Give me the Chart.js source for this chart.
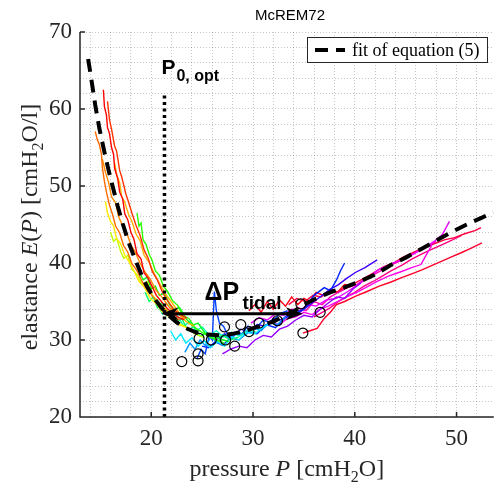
<!DOCTYPE html>
<html>
<head>
<meta charset="utf-8">
<script src="https://cdn.jsdelivr.net/npm/chart.js@4.4.0/dist/chart.umd.min.js"></script>
<style>
  body { margin: 0; background: #fff; }
  canvas { display: block; }
</style>
</head>
<body>
<canvas id="chart" width="500" height="486"></canvas>
<script>
// tick positions
const xTicks = [14, 16, 18, 20, 22, 24, 26, 28, 30, 32, 34, 36, 38, 40, 42, 44, 46, 48, 50, 52];
const yTicks = [20, 22, 24, 26, 28, 30, 32, 34, 36, 38, 40, 42, 44, 46, 48, 50, 52, 54, 56, 58, 60, 62, 64, 66, 68, 70];

// fit of equation (5)
const fitP = [13.8, 14.1, 14.5, 14.9, 15.4, 15.8, 16.2, 16.7, 17.2, 17.8, 18.5, 19.0, 19.6, 20.3, 21.0, 21.7, 22.5, 23.3, 24.4, 25.6, 26.8, 28.0, 29.3, 30.6, 32.0, 33.2, 34.1, 35.0, 35.9, 36.9, 37.8, 38.5, 40.5, 42.0, 43.5, 45.0, 46.5, 48.0, 49.5, 51.0, 52.5, 53.6];
const fitE = [66.5, 64.0, 60.5, 57.5, 54.4, 52.1, 50.0, 47.4, 45.1, 42.6, 40.2, 38.6, 36.9, 35.4, 34.2, 33.2, 32.3, 31.6, 31.0, 30.7, 30.6, 30.8, 31.2, 31.8, 32.4, 33.2, 33.8, 34.6, 35.2, 35.8, 36.3, 36.6, 37.6, 38.5, 39.7, 40.7, 41.8, 42.9, 44.0, 45.0, 45.9, 46.6];

// measured breaths, coloured by hue
const breathHue = [0, 12, 25, 32, 42, 55, 75, 110, 125, 145, 165, 185, 205, 225, 232, 255, 275, 295, 305, 320, 345, 350, 330, 355];
const breathP = [
  [15.3, 15.4, 15.6, 15.7, 15.9, 16.1, 16.3, 16.4, 16.7, 16.9, 17.2, 17.4, 17.7, 18.0, 18.3, 18.6, 19.0, 19.3, 19.7, 20.1, 20.5, 21.0, 21.5, 22.0, 22.6, 23.2],
  [15.7, 15.9, 16.1, 16.4, 16.6, 16.9, 17.1, 17.5, 17.8, 18.1, 18.5, 18.9, 19.3, 19.7, 20.1, 20.6, 21.1, 21.6, 22.2, 22.8, 23.5],
  [14.5, 14.7, 14.9, 15.1, 15.2, 15.4, 15.6, 15.9, 16.2, 16.5, 16.9, 17.3, 17.7, 18.1, 18.6, 19.1, 19.6, 20.2, 20.8, 21.4, 22.1, 22.8],
  [15.2, 15.5, 15.8, 16.1, 16.5, 16.8, 17.2, 17.6, 18.0, 18.4, 18.9, 19.4, 19.9, 20.5, 21.1, 21.8, 22.5, 23.3],
  [16.4, 16.6, 16.9, 17.1, 17.4, 17.8, 18.1, 18.5, 18.9, 19.3, 19.8, 20.3, 20.8, 21.4, 22.0, 22.7, 23.4, 24.2],
  [15.5, 15.7, 16.0, 16.3, 16.6, 17.0, 17.4, 17.8, 18.3, 18.8, 19.3, 19.9, 20.5, 21.1, 21.8, 22.5, 23.3, 24.0],
  [16.0, 16.3, 16.6, 17.0, 17.3, 17.7, 18.1, 18.6, 19.1, 19.6, 20.1, 20.7, 21.3, 22.0, 22.7, 23.5, 24.3, 25.2],
  [18.6, 18.8, 19.0, 19.2, 19.5, 19.8, 20.1, 20.4, 20.8, 21.2, 21.6, 22.1, 22.6, 23.1, 23.7, 24.3, 25.0, 25.7, 26.4, 27.2],
  [18.8, 19.2, 19.6, 20.0, 20.4, 20.8, 21.3, 21.8, 22.3, 22.8, 23.4, 24.0, 24.6, 25.3, 26.0, 26.8, 27.6],
  [19.4, 19.8, 20.2, 20.6, 21.0, 21.5, 22.0, 22.5, 23.0, 23.6, 24.2, 24.8, 25.5, 26.2, 27.0, 27.8, 28.6],
  [20.6, 21.1, 21.6, 22.1, 22.6, 23.2, 23.8, 24.4, 25.0, 25.7, 26.4, 27.1, 27.9, 28.7, 29.5, 30.3],
  [21.9, 22.4, 22.9, 23.4, 24.0, 24.6, 25.2, 25.8, 26.5, 27.2, 27.9, 28.6, 29.4, 30.2, 31.0, 31.8],
  [23.3, 23.8, 24.3, 24.8, 25.3, 25.9, 26.5, 27.1, 27.8, 28.5, 29.2, 30.0, 30.8, 31.6, 32.4, 33.2],
  [24.5, 24.9, 25.3, 25.7, 26.0, 26.2, 26.4, 26.7, 27.1, 27.6, 28.2, 28.8, 29.5, 30.2, 31.0, 31.8, 32.6, 33.4],
  [25.0, 25.6, 26.3, 27.0, 27.8, 28.6, 29.5, 30.4, 31.3, 32.2, 33.1, 34.0, 35.0, 36.0, 37.0, 37.6, 38.2, 38.6, 39.0],
  [26.4, 27.2, 28.0, 28.8, 29.6, 30.4, 31.2, 32.0, 32.8, 33.6, 34.4, 35.2, 36.0, 36.8, 37.6, 38.4, 39.2, 40.1, 41.0, 42.2],
  [27.0, 27.8, 28.6, 29.4, 30.2, 31.0, 31.8, 32.6, 33.4, 34.2, 35.0, 35.8, 36.6, 37.4, 38.2, 39.0, 39.8, 40.6],
  [29.8, 30.6, 31.4, 32.2, 33.0, 33.8, 34.6, 35.4, 36.2, 37.2, 38.2, 39.2, 40.1, 41.2, 42.3, 43.4, 44.6, 45.8, 46.9, 47.8, 48.6, 49.3],
  [31.0, 31.8, 32.6, 33.4, 34.2, 35.0, 35.8, 36.6, 37.4, 38.3, 39.2, 40.2, 41.2, 42.2, 43.3, 44.4, 45.6, 46.5, 47.0, 47.6],
  [32.8, 33.6, 34.4, 35.2, 36.0, 36.8, 37.6, 38.4, 39.3, 40.2, 41.1, 42.0, 43.0, 44.0, 45.0, 46.0, 47.0, 48.0],
  [33.5, 34.3, 35.1, 35.9, 36.7, 37.5, 38.3, 39.1, 40.0, 40.9, 41.8, 42.8, 43.8, 44.8, 45.8, 46.8, 47.8, 48.8, 49.8, 50.8, 51.8, 52.4],
  [34.9, 35.6, 36.3, 37.0, 37.6, 38.2, 39.0, 40.1, 41.2, 42.4, 43.5, 44.6, 45.6, 46.6, 47.6, 48.5, 49.5, 50.4, 51.4, 52.5],
  [36.0, 36.8, 37.6, 38.4, 39.2, 40.0, 40.9, 41.8, 42.7, 43.6, 44.6, 45.6, 46.6, 47.6, 48.6, 49.6, 50.5],
  [29.6, 30.2, 30.8, 31.4, 32.0, 32.6, 33.2, 33.8, 34.4, 35.0, 35.6, 36.2, 36.9, 37.6, 38.3, 39.0, 39.8]
];
const breathE = [
  [62.5, 60.3, 59.2, 57.6, 56.8, 55.0, 54.1, 52.3, 51.0, 49.2, 48.3, 46.4, 45.6, 44.0, 43.1, 41.2, 40.5, 38.7, 38.0, 36.9, 35.8, 35.0, 34.2, 33.6, 33.0, 32.6],
  [61.0, 58.6, 57.4, 55.2, 54.5, 52.0, 51.2, 49.0, 47.8, 46.5, 44.9, 43.6, 41.7, 40.6, 38.9, 37.8, 36.2, 35.1, 34.0, 33.4, 32.8],
  [57.1, 56.0, 55.4, 54.2, 52.4, 50.6, 49.2, 47.5, 46.3, 44.8, 43.9, 42.2, 41.4, 39.9, 39.0, 37.6, 36.5, 35.6, 34.5, 33.9, 33.1, 32.6],
  [53.5, 51.8, 50.5, 48.6, 47.8, 46.0, 44.8, 43.9, 42.3, 41.5, 40.0, 38.8, 37.9, 36.4, 35.5, 34.2, 33.5, 32.7],
  [53.0, 51.5, 50.4, 48.6, 47.9, 46.2, 45.4, 43.8, 42.9, 41.0, 40.1, 38.6, 37.4, 36.0, 34.9, 33.6, 32.4, 31.8],
  [48.0, 46.5, 45.4, 44.8, 43.2, 42.5, 41.0, 40.2, 39.0, 37.6, 36.9, 35.4, 34.7, 33.6, 33.0, 32.1, 31.7, 31.2],
  [44.0, 42.8, 43.2, 41.5, 40.6, 41.0, 39.2, 38.5, 37.2, 37.6, 35.8, 35.0, 34.1, 33.4, 32.2, 31.6, 30.8, 30.3],
  [46.5, 44.8, 45.2, 43.0, 42.4, 41.1, 40.3, 39.0, 38.4, 37.0, 36.3, 35.1, 34.5, 33.2, 32.8, 31.6, 31.0, 30.4, 30.0, 29.6],
  [39.0, 37.8, 38.2, 36.6, 37.0, 35.8, 36.1, 34.6, 33.9, 34.2, 32.8, 31.9, 32.2, 30.9, 30.6, 30.1, 29.8],
  [36.2, 35.0, 35.6, 34.2, 34.8, 33.2, 33.7, 32.3, 32.8, 31.2, 31.8, 30.5, 30.9, 30.2, 30.6, 30.0, 30.4],
  [34.6, 33.4, 34.0, 32.6, 33.1, 31.8, 32.4, 31.2, 31.7, 30.6, 31.2, 30.4, 31.0, 30.5, 31.3, 31.0],
  [31.2, 30.0, 30.8, 29.6, 30.3, 29.2, 29.9, 29.0, 29.8, 29.2, 30.4, 30.0, 31.0, 30.8, 31.7, 32.2],
  [28.4, 29.6, 28.8, 30.0, 29.3, 30.4, 29.6, 30.7, 30.1, 31.1, 30.6, 31.6, 31.2, 32.3, 32.0, 33.0],
  [27.6, 28.8, 28.2, 30.6, 30.0, 36.3, 33.8, 32.2, 31.8, 30.4, 31.0, 30.6, 31.8, 31.4, 32.6, 32.2, 33.4, 33.8],
  [29.2, 29.0, 29.8, 29.3, 30.3, 30.0, 31.0, 30.8, 32.0, 31.6, 32.8, 33.4, 34.0, 35.8, 36.8, 36.4, 37.8, 39.0, 40.0],
  [30.0, 30.8, 30.4, 31.4, 31.0, 32.0, 31.8, 32.8, 32.6, 33.5, 33.4, 34.2, 35.0, 35.8, 36.6, 37.2, 38.0, 38.8, 39.4, 40.4],
  [28.2, 28.8, 29.2, 29.0, 30.0, 30.6, 30.4, 31.4, 31.8, 32.6, 33.2, 33.0, 34.0, 34.8, 35.6, 35.4, 36.6, 37.4],
  [32.2, 32.9, 32.6, 33.4, 33.2, 34.0, 33.8, 34.6, 34.4, 35.2, 35.4, 36.2, 37.0, 38.0, 39.1, 39.8, 40.4, 41.2, 42.0, 42.8, 43.7, 45.4],
  [31.6, 32.3, 32.0, 32.8, 33.0, 33.6, 33.3, 34.0, 34.4, 35.0, 35.6, 36.2, 36.9, 37.6, 38.3, 38.8, 39.4, 39.8, 41.0, 42.4],
  [33.6, 33.2, 34.2, 33.8, 35.0, 34.6, 35.6, 36.2, 36.8, 37.2, 38.0, 38.6, 39.3, 40.0, 40.6, 41.4, 42.0, 42.8],
  [34.6, 35.4, 35.0, 35.8, 35.6, 36.4, 36.2, 36.9, 37.4, 38.0, 38.7, 39.5, 40.0, 40.8, 41.4, 42.0, 42.5, 43.0, 43.3, 43.8, 44.2, 44.6],
  [30.9, 31.2, 31.5, 32.8, 33.6, 34.6, 35.0, 35.7, 36.3, 37.0, 37.5, 38.1, 38.6, 39.1, 39.7, 40.2, 40.8, 41.3, 41.9, 42.6],
  [33.0, 33.6, 34.2, 35.0, 35.6, 36.2, 37.0, 37.6, 38.3, 39.0, 39.7, 40.5, 41.2, 41.8, 42.4, 43.0, 43.6],
  [33.8, 34.6, 33.6, 35.0, 34.0, 35.2, 34.4, 35.6, 34.6, 35.4, 35.0, 36.2, 35.8, 36.6, 36.2, 37.2, 37.0]
];

// end-expiratory points (circles)
const circleP = [23.0, 24.6, 24.6, 24.7, 25.9, 27.2, 27.3, 28.2, 28.8, 29.6, 30.6, 32.4, 34.7, 34.9, 36.6];
const circleE = [27.2, 27.3, 28.2, 30.2, 30.0, 31.7, 30.0, 29.2, 32.0, 31.1, 32.2, 32.5, 34.7, 30.9, 33.6];

// optimal PEEP and tidal swing
const p0opt = 21.3;
const p0optRange = [20, 62];
const tidalFrom = 21.0;
const tidalTo = 34.9;
const tidalE = 33.4;

const pts = (xs, ys) => xs.map((x, i) => ({ x, y: ys[i] }));
const ink = "#262626";

const datasets = [];
datasets.push({
  data: pts(circleP, circleE),
  showLine: false,
  pointRadius: 5,
  pointBorderColor: "#000",
  pointBorderWidth: 1.2,
  pointBackgroundColor: "rgba(0,0,0,0)",
  order: 0
});
datasets.push({
  data: pts([p0opt, p0opt], p0optRange),
  showLine: true,
  borderColor: "#000",
  borderWidth: 3.5,
  borderDash: [3, 3.5],
  pointRadius: 0,
  order: 1
});
datasets.push({
  data: pts(fitP, fitE),
  showLine: true,
  borderColor: "#000",
  borderWidth: 4,
  borderDash: [13, 8],
  pointRadius: 0,
  order: 2
});
breathP.forEach((p, i) => {
  datasets.push({
    data: pts(p, breathE[i]),
    showLine: true,
    borderColor: `hsl(${breathHue[i]}, 100%, 50%)`,
    borderWidth: 1.4,
    pointRadius: 0,
    order: 10 + i
  });
});

function drawParts(ctx, parts, x, y) {
  let w = 0;
  parts.forEach(p => { ctx.font = p.font; p.w = ctx.measureText(p.t).width; w += p.w; });
  let cx = x - w / 2;
  parts.forEach(p => {
    ctx.font = p.font;
    ctx.fillText(p.t, cx, y + (p.dy || 0));
    cx += p.w;
  });
}

function arrowHead(ctx, tipX, y, dir) {
  ctx.beginPath();
  ctx.moveTo(tipX, y);
  ctx.lineTo(tipX + dir * 17, y - 6.5);
  ctx.lineTo(tipX + dir * 12, y);
  ctx.lineTo(tipX + dir * 17, y + 6.5);
  ctx.closePath();
  ctx.fill();
}

const extras = {
  id: "extras",
  afterDatasetsDraw(chart) {
    const { ctx, chartArea: a, scales: { x, y } } = chart;
    ctx.save();

    // axis lines with inward ticks
    ctx.strokeStyle = ink;
    ctx.lineWidth = 1.5;
    ctx.beginPath();
    ctx.moveTo(a.left, a.top);
    ctx.lineTo(a.left, a.bottom);
    ctx.lineTo(a.right, a.bottom);
    xTicks.filter(v => v % 10 === 0).forEach(v => {
      const px = x.getPixelForValue(v);
      ctx.moveTo(px, a.bottom);
      ctx.lineTo(px, a.bottom - 5);
    });
    yTicks.filter(v => v % 10 === 0).forEach(v => {
      const py = y.getPixelForValue(v);
      ctx.moveTo(a.left, py);
      ctx.lineTo(a.left + 5, py);
    });
    ctx.stroke();

    // tidal arrow
    const x1 = x.getPixelForValue(tidalFrom);
    const x2 = x.getPixelForValue(tidalTo);
    const ay = y.getPixelForValue(tidalE);
    ctx.strokeStyle = "#000";
    ctx.fillStyle = "#000";
    ctx.lineWidth = 3;
    ctx.beginPath();
    ctx.moveTo(x1 + 10, ay);
    ctx.lineTo(x2 - 10, ay);
    ctx.stroke();
    arrowHead(ctx, x1, ay, 1);
    arrowHead(ctx, x2, ay, -1);

    // annotations
    ctx.textAlign = "left";
    ctx.textBaseline = "alphabetic";
    const px0 = x.getPixelForValue(p0opt);
    const py0 = y.getPixelForValue(p0optRange[1]);
    ctx.font = "bold 21px 'Liberation Sans', Arial";
    ctx.fillText("P", px0 - 3, py0 - 20);
    ctx.font = "bold 16px 'Liberation Sans', Arial";
    ctx.fillText("0, opt", px0 + 12, py0 - 13);

    ctx.font = "bold 25px 'Liberation Sans', Arial";
    ctx.fillText("\u0394P", x1 + 43, ay - 14);
    ctx.font = "bold 19px 'Liberation Sans', Arial";
    ctx.fillText("tidal", x1 + 81, ay - 5);

    // legend
    ctx.fillStyle = "#fff";
    ctx.fillRect(307.5, 37.5, 180, 25);
    ctx.strokeStyle = ink;
    ctx.lineWidth = 1;
    ctx.strokeRect(307.5, 37.5, 180, 25);
    ctx.strokeStyle = "#000";
    ctx.lineWidth = 4;
    ctx.setLineDash([13, 8]);
    ctx.beginPath();
    ctx.moveTo(315, 50);
    ctx.lineTo(345, 50);
    ctx.stroke();
    ctx.setLineDash([]);
    ctx.fillStyle = "#000";
    ctx.font = "18px 'Liberation Serif', 'Times New Roman'";
    ctx.fillText("fit of equation (5)", 352, 56);

    // title
    ctx.fillStyle = "#000";
    ctx.textAlign = "center";
    ctx.font = "15px 'Liberation Sans', Arial";
    ctx.fillText("McREM72", 290, 20);

    // axis titles
    ctx.textAlign = "left";
    ctx.fillStyle = ink;
    const serif = "'Liberation Serif', 'Times New Roman'";
    drawParts(ctx, [
      { t: "pressure ", font: `24px ${serif}` },
      { t: "P", font: `italic 24px ${serif}` },
      { t: " [cmH", font: `24px ${serif}` },
      { t: "2", font: `16px ${serif}`, dy: 6 },
      { t: "O]", font: `24px ${serif}` }
    ], (a.left + a.right) / 2, 476);

    ctx.translate(37, 227);
    ctx.rotate(-Math.PI / 2);
    drawParts(ctx, [
      { t: "elastance ", font: `24px ${serif}` },
      { t: "E", font: `italic 24px ${serif}` },
      { t: "(", font: `24px ${serif}` },
      { t: "P", font: `italic 24px ${serif}` },
      { t: ") [cmH", font: `24px ${serif}` },
      { t: "2", font: `16px ${serif}`, dy: 6 },
      { t: "O/l]", font: `24px ${serif}` }
    ], 0, 0);

    ctx.restore();
  }
};

const gridStyle = { color: "rgba(0,0,0,0.22)", lineWidth: 1, drawTicks: false };

new Chart(document.getElementById("chart"), {
  type: "scatter",
  data: { datasets },
  options: {
    responsive: false,
    animation: false,
    layout: { padding: { top: 32, right: 0, left: 0, bottom: 0 } },
    plugins: { legend: { display: false }, tooltip: { enabled: false } },
    scales: {
      x: {
        type: "linear",
        min: 13,
        max: 53.66,
        afterBuildTicks: s => { s.ticks = xTicks.map(v => ({ value: v })); },
        afterFit: s => { s.height = 69; },
        grid: gridStyle,
        border: { display: false, dash: [1, 2] },
        ticks: {
          autoSkip: false,
          maxRotation: 0,
          padding: 8,
          color: ink,
          font: { family: "'Liberation Serif', 'Times New Roman'", size: 23 },
          callback: v => (v % 10 === 0 ? v : "")
        }
      },
      y: {
        type: "linear",
        min: 20,
        max: 70,
        afterBuildTicks: s => { s.ticks = yTicks.map(v => ({ value: v })); },
        afterFit: s => { s.width = 80; },
        grid: gridStyle,
        border: { display: false, dash: [1, 2] },
        ticks: {
          autoSkip: false,
          padding: 8,
          color: ink,
          font: { family: "'Liberation Serif', 'Times New Roman'", size: 23 },
          callback: v => (v % 10 === 0 ? v : "")
        }
      }
    }
  },
  plugins: [extras]
});
</script>
</body>
</html>
